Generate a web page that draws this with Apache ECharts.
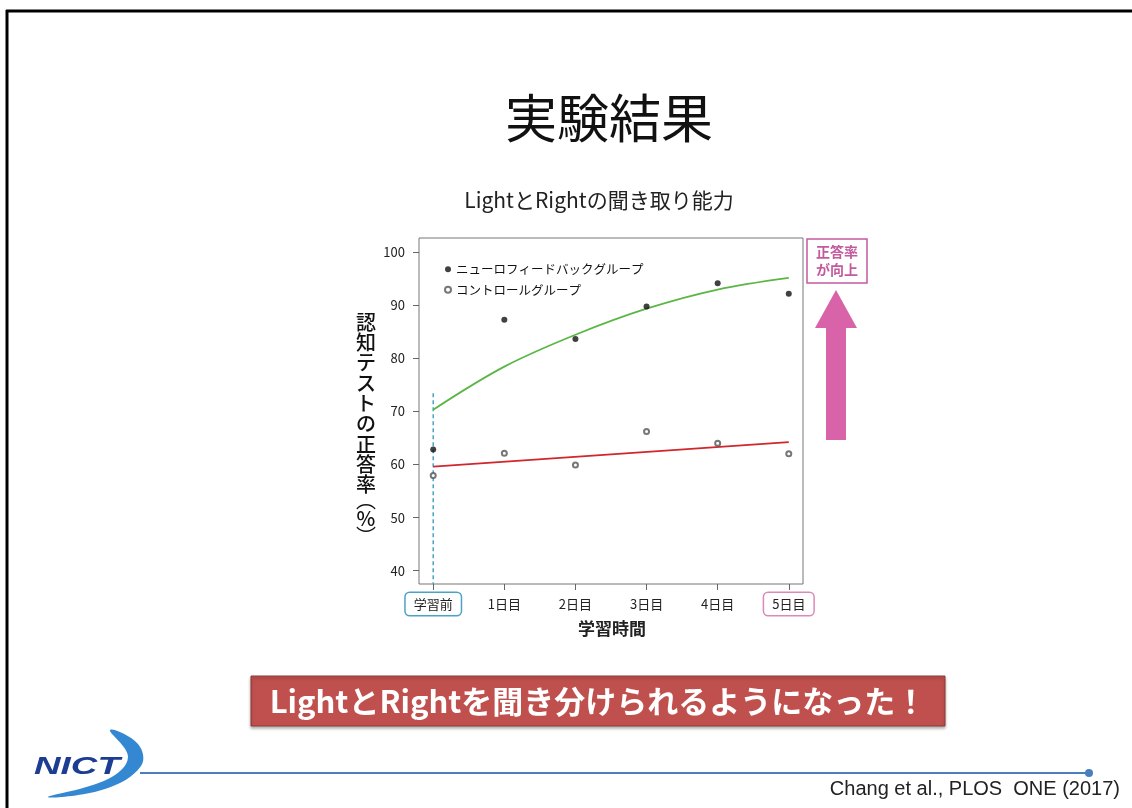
<!DOCTYPE html>
<html>
<head>
<meta charset="utf-8">
<script src="https://cdn.jsdelivr.net/npm/echarts@6/dist/echarts.min.js"></script>
<style>
  html, body { margin: 0; padding: 0; background: #fff; }
  #chart { width: 1132px; height: 808px; }
</style>
</head>
<body>
<div id="chart"></div>
<script>
// 学習日（x軸）
const dayLabels = ['学習前', '1日目', '2日目', '3日目', '4日目', '5日目'];
const dayIndex = [0, 1, 2, 3, 4, 5];
// 正答率（%）
const neuroScores = [62.8, 87.2, 83.6, 89.7, 94.1, 92.1];
const controlScores = [57.9, 62.1, 59.9, 66.2, 64.0, 62.0];
// 近似曲線
const neuroFit = [70.3, 78.4, 84.4, 89.3, 92.9, 95.1];
const controlFitDays = [0, 5];
const controlFit = [59.6, 64.2];
// 学習前の点線
const baselineRange = [73.4, 37.5];
const yTicks = [40, 50, 60, 70, 80, 90, 100];

const FONT = '"Noto Sans CJK JP", "Noto Sans", sans-serif';
const chart = echarts.init(document.getElementById('chart'));

const option = {
  backgroundColor: '#fff',
  animation: false,
  textStyle: { fontFamily: FONT },
  grid: {
    left: 419, top: 238, width: 384, height: 346,
    show: true, borderColor: '#777', borderWidth: 1
  },
  legend: {
    data: ['ニューロフィードバックグループ', 'コントロールグループ'],
    orient: 'vertical',
    left: 439, top: 258,
    itemWidth: 6, itemHeight: 6, itemGap: 8,
    textStyle: { fontSize: 12.5, color: '#111', fontFamily: FONT }
  },
  xAxis: {
    type: 'value', min: -0.2, max: 5.2,
    axisLine: { show: false, onZero: false },
    splitLine: { show: false },
    axisTick: { show: true, length: 6, customValues: dayIndex, lineStyle: { color: '#666' } },
    axisLabel: {
      customValues: dayIndex,
      margin: 20,
      verticalAlign: 'middle',
      fontSize: 13, color: '#222', fontFamily: FONT,
      formatter: v => {
        const i = Math.round(v);
        if (i === 0) return '{pre|' + dayLabels[i] + '}';
        if (i === 5) return '{last|' + dayLabels[i] + '}';
        return dayLabels[i];
      },
      rich: {
        pre: {
          fontSize: 13, color: '#222', fontFamily: FONT,
          borderColor: '#4aa3c6', borderWidth: 1.5, borderRadius: 4,
          padding: [5, 8, 4, 8], backgroundColor: '#fff'
        },
        last: {
          fontSize: 13, color: '#222', fontFamily: FONT,
          borderColor: '#d98ab8', borderWidth: 1.5, borderRadius: 4,
          padding: [5, 8, 4, 8], backgroundColor: '#fff'
        }
      }
    }
  },
  yAxis: {
    type: 'value', min: 37.5, max: 102.6,
    axisLine: { show: false, onZero: false },
    splitLine: { show: false },
    axisTick: { show: true, length: 6, customValues: yTicks, lineStyle: { color: '#666' } },
    axisLabel: { customValues: yTicks, margin: 14, fontSize: 13, color: '#222', fontFamily: FONT }
  },
  series: [
    {
      name: 'baseline',
      type: 'line',
      data: [[0, baselineRange[0]], [0, baselineRange[1]]],
      showSymbol: false,
      lineStyle: { color: '#4aa3c6', width: 1.5, type: [4, 3] },
      clip: false,
      z: 1
    },
    {
      name: 'neuroFit',
      type: 'line',
      data: dayIndex.map((d, i) => [d, neuroFit[i]]),
      smooth: 0.35,
      showSymbol: false,
      lineStyle: { color: '#5cb646', width: 1.8 },
      z: 2
    },
    {
      name: 'controlFit',
      type: 'line',
      data: controlFitDays.map((d, i) => [d, controlFit[i]]),
      showSymbol: false,
      lineStyle: { color: '#d0262c', width: 1.8 },
      z: 2
    },
    {
      name: 'ニューロフィードバックグループ',
      type: 'scatter',
      data: dayIndex.map((d, i) => [d, neuroScores[i]]),
      symbol: 'circle',
      symbolSize: 6,
      itemStyle: { color: '#111' },
      z: 3
    },
    {
      name: 'コントロールグループ',
      type: 'scatter',
      data: dayIndex.map((d, i) => [d, controlScores[i]]),
      symbol: 'emptyCircle',
      symbolSize: 5,
      itemStyle: { color: '#555', borderWidth: 1 },
      z: 3
    }
  ],
  graphic: [
    // スライド枠
    { type: 'line', shape: { x1: 6, y1: 11, x2: 1132, y2: 11 }, style: { stroke: '#000', lineWidth: 3 } },
    { type: 'line', shape: { x1: 7, y1: 10, x2: 7, y2: 808 }, style: { stroke: '#000', lineWidth: 3 } },
    // タイトル
    { type: 'text', x: 609, y: 118, style: { text: '実験結果', font: '52px ' + FONT, fill: '#111', textAlign: 'center', textVerticalAlign: 'middle' } },
    { type: 'text', x: 599, y: 200, style: { text: 'LightとRightの聞き取り能力', font: '21px ' + FONT, fill: '#222', textAlign: 'center', textVerticalAlign: 'middle' } },
    // 軸タイトル
    { type: 'text', x: 366, y: 312, style: { text: '認\n知\nテ\nス\nト\nの\n正\n答\n率', font: '500 20px ' + FONT, lineHeight: 20.3, fill: '#111', textAlign: 'center' } },
    { type: 'text', x: 366, y: 500, style: { text: '︵', font: '20px ' + FONT, fill: '#111', textAlign: 'center', textVerticalAlign: 'middle' } },
    { type: 'text', x: 366, y: 518, style: { text: '%', font: '500 20px ' + FONT, fill: '#111', textAlign: 'center', textVerticalAlign: 'middle' } },
    { type: 'text', x: 366, y: 536, style: { text: '︶', font: '20px ' + FONT, fill: '#111', textAlign: 'center', textVerticalAlign: 'middle' } },
    { type: 'text', x: 612, y: 629, style: { text: '学習時間', font: 'bold 17px ' + FONT, fill: '#222', textAlign: 'center', textVerticalAlign: 'middle' } },
    // 正答率が向上
    { type: 'rect', shape: { x: 807, y: 239, width: 60, height: 44 }, style: { fill: '#fff', stroke: '#c45a9e', lineWidth: 1.5 } },
    { type: 'text', x: 837, y: 261, style: { text: '正答率\nが向上', font: 'bold 14px ' + FONT, lineHeight: 18, fill: '#c45a9e', textAlign: 'center', textVerticalAlign: 'middle' } },
    { type: 'polygon', shape: { points: [[815, 328], [836, 290], [857, 328], [846, 328], [846, 440], [826, 440], [826, 328]] }, style: { fill: '#d963a8' } },
    // 結論
    { type: 'rect', shape: { x: 251, y: 676, width: 694, height: 50 }, style: { fill: '#c0504d', stroke: '#8e3b39', lineWidth: 1, shadowBlur: 3, shadowColor: 'rgba(0,0,0,0.3)', shadowOffsetY: 2 } },
    { type: 'text', x: 598, y: 701, style: { text: 'LightとRightを聞き分けられるようになった！', font: 'bold 31px ' + FONT, fill: '#fff', textAlign: 'center', textVerticalAlign: 'middle' } },
    // ロゴ・フッター
    { type: 'polygon', shape: { smooth: 0.4, points: [[110, 730], [138, 744], [141, 766], [105, 789], [48, 797], [108, 779], [128, 757]] }, style: { fill: '#3488d2' } },
    { type: 'text', x: 34, y: 768, scaleX: 1.6, originX: 0, originY: 0, style: { text: 'NICT', font: 'italic bold 23px "Liberation Sans", sans-serif', fill: '#1d3d92', textVerticalAlign: 'middle' } },
    { type: 'line', shape: { x1: 140, y1: 773, x2: 1089, y2: 773 }, style: { stroke: '#4a7ebf', lineWidth: 2 } },
    { type: 'circle', shape: { cx: 1089, cy: 773, r: 4 }, style: { fill: '#4a7ebf' } },
    { type: 'text', x: 1120, y: 789, style: { text: 'Chang et al., PLOS  ONE (2017)', font: '20px "Liberation Sans", sans-serif', fill: '#222', textAlign: 'right', textVerticalAlign: 'middle' } }
  ]
};

chart.setOption(option);
</script>
</body>
</html>
